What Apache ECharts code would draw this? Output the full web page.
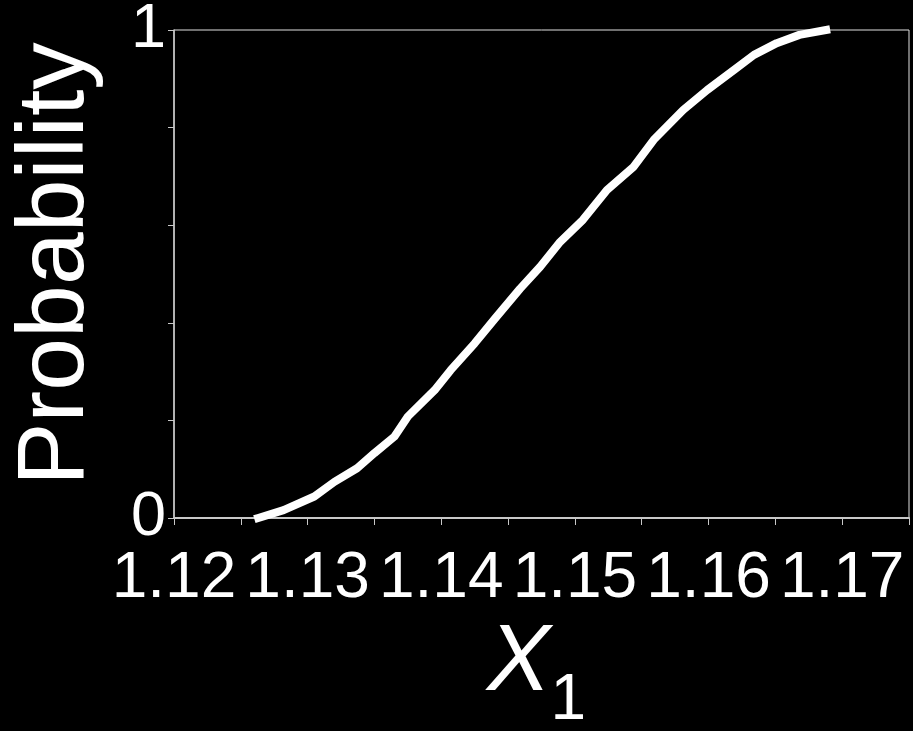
<!DOCTYPE html>
<html>
<head>
<meta charset="utf-8">
<title>Probability of X1</title>
<script src="https://cdn.jsdelivr.net/npm/echarts@6/dist/echarts.min.js"></script>
<style>
  html, body { margin: 0; padding: 0; background: #000; }
  #chart { width: 913px; height: 731px; }
</style>
</head>
<body>
<div id="chart"></div>
<script>
// Empirical cumulative distribution of X1
const xValues = [
  1.1263, 1.1282, 1.1305, 1.1320, 1.1337, 1.1350, 1.1365, 1.1375, 1.1395,
  1.1407, 1.1425, 1.1440, 1.1459, 1.1474, 1.1489, 1.1506, 1.1524, 1.1544,
  1.1559, 1.1581, 1.1599, 1.1619, 1.1634, 1.1651, 1.1668, 1.1688
];
const probValues = [
  0.000, 0.016, 0.044, 0.074, 0.102, 0.133, 0.167, 0.208, 0.262,
  0.303, 0.358, 0.408, 0.470, 0.515, 0.566, 0.611, 0.672, 0.720,
  0.775, 0.836, 0.877, 0.918, 0.949, 0.973, 0.990, 1.000
];

// Tick labels that are written out; the other ticks stay unlabelled
const xTickLabels = ['1.12', '1.13', '1.14', '1.15', '1.16', '1.17'];
const yTickLabels = ['0', '1'];

const FONT = "Arial, 'Liberation Sans', sans-serif";
const AXIS_GREY = '#c8c8c8';

const chart = echarts.init(document.getElementById('chart'), null, { renderer: 'canvas' });

chart.setOption({
  backgroundColor: '#000',
  animation: false,
  grid: {
    left: 174, right: 4, top: 30, bottom: 213,
    show: true, borderColor: '#e0e0e0', borderWidth: 1,
    containLabel: false,
    outerBoundsMode: 'none'
  },
  xAxis: {
    type: 'value',
    min: 1.12, max: 1.175, interval: 0.005,
    splitLine: { show: false },
    axisLine: { show: true, lineStyle: { color: AXIS_GREY, width: 2 } },
    axisTick: { show: true, inside: false, length: 7, lineStyle: { color: AXIS_GREY, width: 1 } },
    axisLabel: {
      color: '#fff', fontFamily: FONT, fontSize: 64, margin: 29,
      showMaxLabel: true,
      formatter: v => {
        const s = (Math.round(v * 1000) / 1000).toFixed(2);
        return (Math.abs(v * 100 - Math.round(v * 100)) < 1e-6 && xTickLabels.includes(s)) ? s : '';
      }
    },
    name: '{x|X}{s|1}',
    nameLocation: 'middle',
    nameGap: 108,
    nameTextStyle: {
      color: '#fff', fontFamily: FONT,
      padding: [0, 10, 0, 0],
      rich: {
        x: { fontSize: 95, fontStyle: 'italic', color: '#fff', fontFamily: FONT,
             lineHeight: 95, verticalAlign: 'bottom', padding: [0, 0, 22, 0] },
        s: { fontSize: 64, color: '#fff', fontFamily: FONT,
             lineHeight: 64, verticalAlign: 'bottom' }
      }
    }
  },
  yAxis: {
    type: 'value',
    min: 0, max: 1, interval: 0.2,
    splitLine: { show: false },
    axisLine: { show: true, lineStyle: { color: AXIS_GREY, width: 1.5 } },
    axisTick: { show: true, inside: false, length: 6, lineStyle: { color: AXIS_GREY, width: 1 } },
    axisLabel: {
      color: '#fff', fontFamily: FONT, fontSize: 63, margin: 8,
      formatter: v => {
        const s = String(Math.round(v * 100) / 100);
        return yTickLabels.includes(s) ? s : '';
      }
    },
    name: 'Probability',
    nameLocation: 'middle',
    nameGap: 70,
    nameRotate: 90,
    nameTextStyle: { color: '#fff', fontFamily: FONT, fontSize: 95, padding: [0, 0, 0, 20] }
  },
  series: [{
    type: 'line',
    data: xValues.map((x, i) => [x, probValues[i]]),
    showSymbol: false,
    clip: false,
    lineStyle: { color: '#fff', width: 8, cap: 'square', join: 'round' }
  }]
});
</script>
</body>
</html>
